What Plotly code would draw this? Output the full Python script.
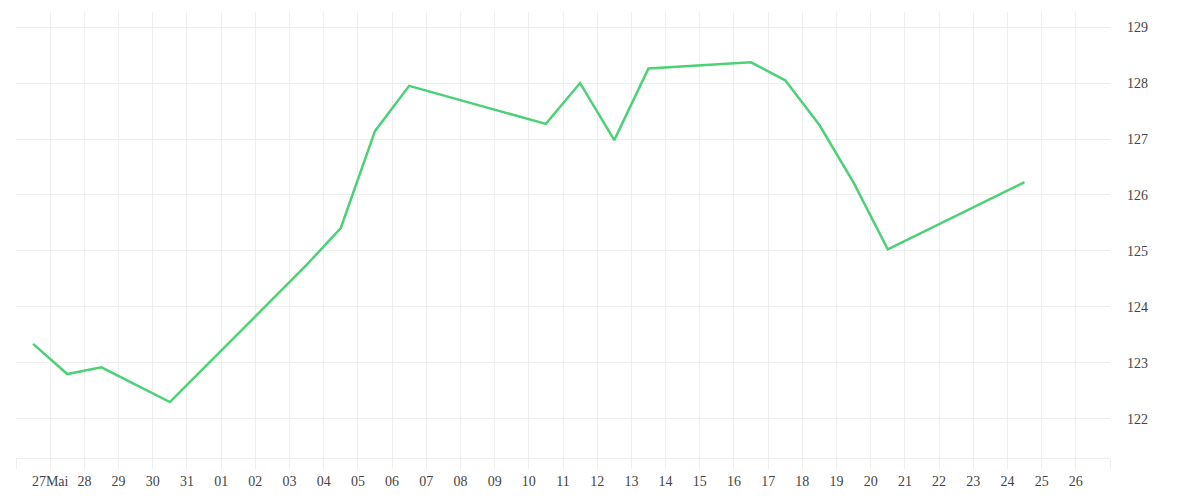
import plotly.graph_objects as go
import pandas as pd

dates = ["2024-05-26 12:00", "2024-05-27 12:00", "2024-05-28 12:00", "2024-05-30 12:00",
         "2024-06-03 12:00", "2024-06-04 12:00", "2024-06-05 12:00", "2024-06-06 12:00",
         "2024-06-10 12:00", "2024-06-11 12:00", "2024-06-12 12:00", "2024-06-13 12:00",
         "2024-06-16 12:00", "2024-06-17 12:00", "2024-06-18 12:00", "2024-06-19 12:00",
         "2024-06-20 12:00", "2024-06-24 12:00"]
values = [123.34, 122.80, 122.92, 122.30,
          124.75, 125.41, 127.14, 127.95,
          127.27, 128.00, 126.98, 128.26,
          128.37, 128.05, 127.25, 126.22,
          125.03, 126.23]

tick_days = pd.date_range("2024-05-26", "2024-06-27", freq="D")
tick_labels = [""] + ["27Mai"] + [d.strftime("%d") for d in tick_days[2:-1]] + [""]
y_ticks = [122, 123, 124, 125, 126, 127, 128, 129]

fig = go.Figure()
fig.add_trace(go.Scatter(x=pd.to_datetime(dates), y=values, mode="lines",
                         line=dict(color="#4cd177", width=2.5), hoverinfo="x+y"))

font = dict(family="Liberation Serif, DejaVu Serif, serif", size=14, color="#444444")
grid = "#eeeeee"
fig.update_layout(
    width=1200, height=500,
    margin=dict(l=8, r=98, t=4, b=50),
    paper_bgcolor="white", plot_bgcolor="white",
    showlegend=False,
    font=font,
    xaxis=dict(type="date", range=[tick_days[0], tick_days[-1]],
               tickmode="array", tickvals=tick_days, ticktext=tick_labels,
               showgrid=True, gridcolor=grid, gridwidth=1,
               ticks="outside", ticklen=10, tickcolor=grid,
               showline=True, linecolor=grid, linewidth=1,
               zeroline=False, tickfont=font),
    yaxis=dict(side="right", range=[121.30, 129.27],
               tickmode="array", tickvals=y_ticks, ticktext=[str(v) for v in y_ticks],
               showgrid=True, gridcolor=grid, gridwidth=1,
               zeroline=False, showline=False, ticks="",
               ticklabelstandoff=16, tickfont=font),
)

fig.write_html("out.html")
